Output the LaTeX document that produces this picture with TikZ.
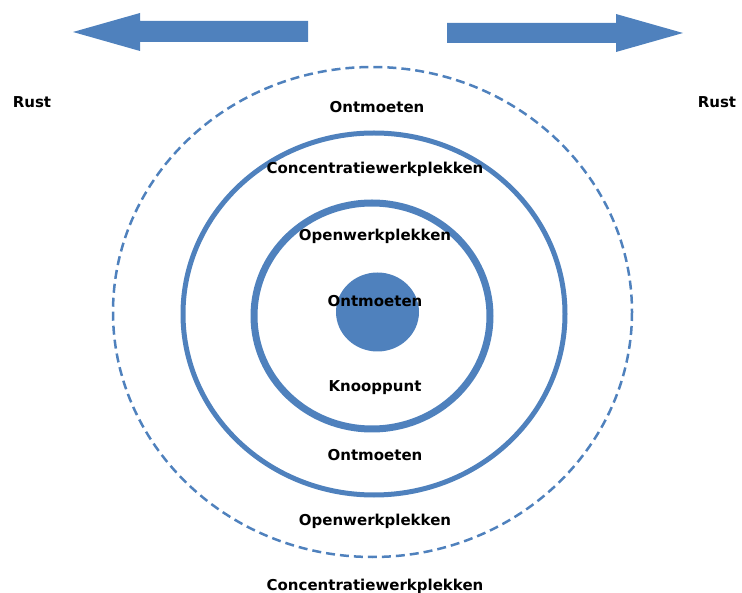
\documentclass[tikz,border=0pt]{standalone}
\usepackage{fontspec}
\setmainfont{DejaVu Sans}
\usepackage{xcolor}
\usepackage{tikz}
\usetikzlibrary{positioning}
\definecolor{ringblue}{HTML}{4F81BD}
\tikzset{
    zone/.style={font=\fontsize{15}{17}\selectfont\bfseries, text=black, inner sep=0pt},
    ring/.style={draw=ringblue}
}

\begin{document}
\begin{tikzpicture}[x=1pt,y=-1pt]
    \useasboundingbox (0,0) rectangle (742,593);

    % Arrows
    \fill[ringblue] (73,32) -- (140,13) -- (140,21) -- (308,21) -- (308,42) -- (140,42) -- (140,51) -- cycle;
    \fill[ringblue] (683,33) -- (616,14) -- (616,23) -- (447,23) -- (447,43) -- (616,43) -- (616,52) -- cycle;

    % Rings
    \draw[ring, line width=2.5pt, dash pattern=on 9pt off 5pt] (372.5,312) ellipse [x radius=259.5, y radius=245];
    \draw[ring, line width=5pt] (374,314) ellipse [x radius=191, y radius=181];
    \draw[ring, line width=7pt] (372,316) ellipse [x radius=118, y radius=113];
    \fill[ringblue] (377.5,312) ellipse [x radius=41.5, y radius=39.5];

    % Labels
    \node[zone] (rustL) at (32,102) {Rust};
    \node[zone] (rustR) at (717,102) {Rust};
    \node[zone] (meetTop) at (377,107) {Ontmoeten};
    \node[zone] (focusTop) at (375,169) {Concentratiewerkplekken};
    \node[zone] (openTop) at (375,236) {Openwerkplekken};
    \node[zone] (meetMid) at (375,301) {Ontmoeten};
    \node[zone] (hub) at (375,388) {Knooppunt};
    \node[zone] (meetLow) at (375,455) {Ontmoeten};
    \node[zone] (openLow) at (375,521) {Openwerkplekken};
    \node[zone] (focusLow) at (375,586) {Concentratiewerkplekken};

\end{tikzpicture}
\end{document}
